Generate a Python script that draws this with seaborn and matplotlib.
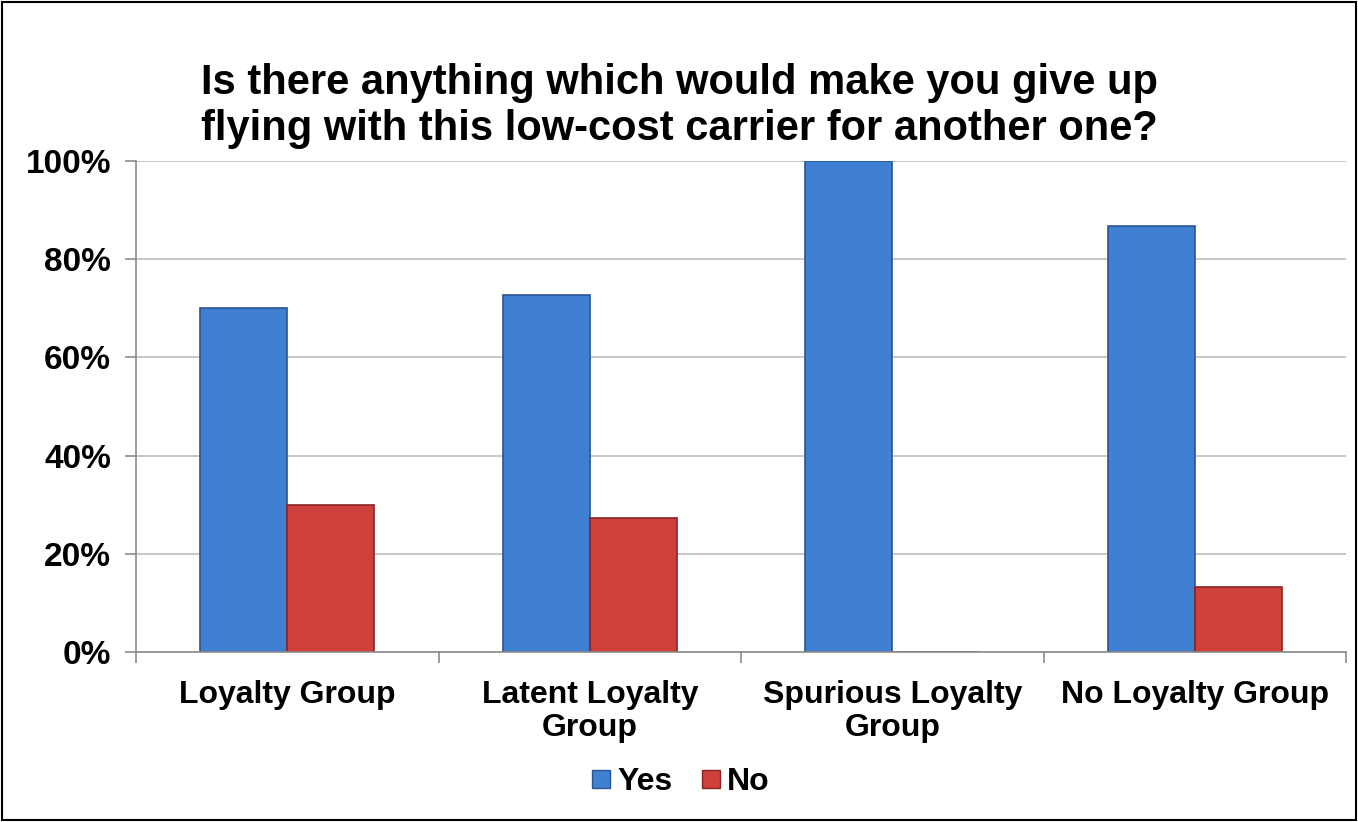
import matplotlib
matplotlib.use("Agg")
import matplotlib.pyplot as plt
import seaborn as sns
import pandas as pd
from matplotlib.patches import Rectangle
from matplotlib.lines import Line2D

categories = ["Loyalty Group", "Latent Loyalty\nGroup", "Spurious Loyalty\nGroup", "No Loyalty Group"]
yes_values = [70.0, 72.7, 100.0, 86.7]
no_values = [30.0, 27.3, 0.0, 13.3]
series = ["Yes", "No"]
title = "Is there anything which would make you give up\nflying with this low-cost carrier for another one?"

rows = []
for c, y, n in zip(categories, yes_values, no_values):
    rows.append({"cat": c, "series": "Yes", "val": y})
    rows.append({"cat": c, "series": "No", "val": n})
df = pd.DataFrame(rows)

sns.set_theme(style="white")
plt.rcParams['font.family'] = ['Liberation Sans', 'DejaVu Sans']
plt.rcParams['text.color'] = 'black'
plt.rcParams['xtick.labelcolor'] = 'black'
plt.rcParams['ytick.labelcolor'] = 'black'

fig = plt.figure(figsize=(13.58, 8.22), dpi=100)
ax = fig.add_axes([136/1358, 1 - 652/822, (1346-136)/1358, (652-161)/822])

palette = {"Yes": "#4080d2", "No": "#cf3f3c"}
edges = {"Yes": "#2a5590", "No": "#8a2424"}
sns.barplot(data=df, x="cat", y="val", hue="series", hue_order=series,
            order=categories, palette=palette, width=0.575, dodge=True,
            saturation=1, ax=ax, legend=False, linewidth=1.2)
for cont, s in zip(ax.containers, series):
    for p in cont.patches:
        p.set_edgecolor(edges[s])

ax.set_xlim(-0.5, 3.5)
ax.set_ylim(0, 100)
ax.set_yticks([0, 20, 40, 60, 80, 100])
ax.set_yticklabels(["0%", "20%", "40%", "60%", "80%", "100%"])
ax.yaxis.grid(True, color="#bfbfbf", linewidth=1.2)
ax.set_axisbelow(True)
ax.set_xlabel("")
ax.set_ylabel("")
for side in ["top", "right"]:
    ax.spines[side].set_visible(False)
for side in ["left", "bottom"]:
    ax.spines[side].set_color("#8c8c8c")
    ax.spines[side].set_linewidth(1.2)

ax.tick_params(axis="y", which="both", left=True, length=8, width=1.2, color="#8c8c8c",
               labelsize=24, pad=10, labelcolor="black")
for lab in ax.get_yticklabels():
    lab.set_fontweight("bold")
ax.set_xticks([0, 1, 2, 3])
ax.set_xticklabels(categories, fontsize=23, fontweight="bold", linespacing=1.12)
ax.tick_params(axis="x", which="major", bottom=False, pad=14, labelcolor="black")
ax.set_xticks([-0.5, 0.5, 1.5, 2.5, 3.5], minor=True)
ax.tick_params(axis="x", which="minor", bottom=True, length=8, width=1.2, color="#8c8c8c")

fig.text(0.5, 1 - 106/822, title, ha="center", va="center", fontsize=30,
         fontweight="bold", linespacing=1.2, color="black")

handles = [Line2D([0], [0], marker="s", linestyle="none", markersize=13,
                  markerfacecolor=palette[s], markeredgecolor=edges[s]) for s in series]
fig.legend(handles, series, loc="center", bbox_to_anchor=(0.5, 1 - 782/822),
           ncol=2, frameon=False, prop={"weight": "bold", "size": 23},
           handletextpad=0.1, columnspacing=0.8, handlelength=0.8,
           labelcolor="black")

fig.patches.append(Rectangle((0.0015, 0.002), 0.997, 0.996, transform=fig.transFigure,
                             fill=False, edgecolor="black", linewidth=1.5))
fig.savefig("out.png", dpi=100, facecolor="white")
